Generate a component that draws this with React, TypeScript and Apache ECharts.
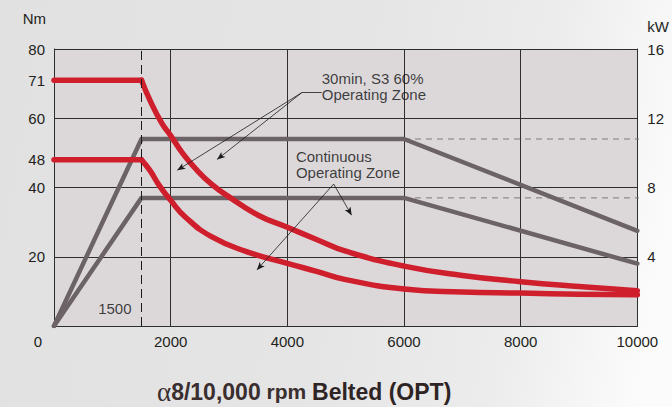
import React, { useEffect, useRef } from "react";
import * as echarts from "echarts";

// ---- data ----
const rpmTicks = [0, 2000, 4000, 6000, 8000, 10000];
const torqueTickLabels = [20, 40, 48, 60, 71, 80];
const powerTickLabels = [4, 8, 12, 16];
const baseSpeed = 1500;

// torque curves (rpm, Nm)
const s3Torque: number[][] = [
  [0, 71], [1500, 71], [1650, 65], [1850, 58.5], [2000, 55], [2200, 50],
  [2450, 45], [2700, 41], [3000, 37.3], [3500, 32], [4000, 28.5], [4500, 25],
  [5000, 21.6], [6000, 17.3], [7000, 14.6], [8000, 12.8], [9000, 11.4], [10000, 10.2],
];
const contTorque: number[][] = [
  [0, 48], [1500, 48], [1650, 44.8], [1800, 40.7], [2000, 36.3], [2250, 31.5],
  [2700, 25.8], [3300, 21.5], [4000, 18.1], [4500, 15.8], [5000, 13.4],
  [6000, 10.7], [7000, 9.8], [8000, 9.5], [9000, 9.2], [10000, 9.0],
];
// power curves (rpm, kW)
const s3Power: number[][] = [[0, 0], [1500, 10.8], [6000, 10.8], [10000, 5.5]];
const contPower: number[][] = [[0, 0], [1500, 7.4], [6000, 7.4], [10000, 3.6]];

// leader lines toward the kW labels (rpm, kW)
const dashedLeaders: number[][][] = [
  [[6000, 10.8], [10550, 10.8]],
  [[6000, 7.4], [10550, 7.4]],
];
const solidLeaders: number[][][] = [
  [[10000, 5.5], [10550, 5.5]],
  [[10000, 3.6], [10550, 3.6]],
];

// annotations (rpm, Nm)
const s3Note = { text: "30min, S3 60%\nOperating Zone", at: [4590, 69.1] };
const contNote = { text: "Continuous\nOperating Zone", at: [4147, 46.7] };
const s3Apex = [4248, 67.4];
const s3Tick = [4590, 67.4];
const s3Tips = [[2113, 45.0], [2796, 48.1]];
const contApex = [4794, 41.0];
const contTips = [[3479, 16.2], [5102, 32.0]];
const baseSpeedLabelAt = [1500, 5];

const FONT = "'Liberation Sans', Arial, Helvetica, sans-serif";
const TXT = "#231f20";
const RED = "#cf1f2d";
const GRAY = "#6c6367";
const GRID = "#2e2e2e";

export default function App() {
  const ref = useRef<HTMLDivElement>(null);

  useEffect(() => {
    document.body.style.margin = "0";
    const chart = echarts.init(ref.current!, null, { renderer: "svg" });

    const arrow = (from: number[], to: number[]) => [
      { coord: from, symbol: "none" },
      { coord: to, symbol: "arrow" },
    ];

    // split a torque curve into its flat (constant torque) part and its falling part
    const splitAtBase = (curve: number[][]) => {
      const i = curve.findIndex((p) => p[0] === baseSpeed);
      return [curve.slice(0, i + 1), curve.slice(i)];
    };

    const redSeries = [s3Torque, contTorque].flatMap((curve) => {
      const [flat, falling] = splitAtBase(curve);
      return [
        { data: flat, smooth: false },
        { data: falling, smooth: 0.5 },
      ].map((s) => ({
        type: "line",
        yAxisIndex: 0,
        data: s.data,
        smooth: s.smooth,
        symbol: "none",
        silent: true,
        z: 3,
        lineStyle: { color: RED, width: 5.5, cap: "round", join: "round" },
      }));
    });

    const option: any = {
      animation: false,
      title: {
        text: "{a|α}{b|8/10,000}{c| rpm }{d|Belted (OPT)}",
        left: 152,
        top: 373,
        textStyle: {
          rich: {
            a: { fontFamily: "'Liberation Serif', 'DejaVu Serif', serif", fontSize: 27, fontWeight: "normal", color: "#3a2e2e" },
            b: { fontFamily: FONT, fontSize: 23, fontWeight: "bold", color: "#3a2e2e" },
            c: { fontFamily: FONT, fontSize: 21, fontWeight: "bold", color: "#3a2e2e" },
            d: { fontFamily: FONT, fontSize: 23, fontWeight: "bold", color: "#2e2424" },
          },
        },
      },
      grid: {
        left: 54,
        right: 32,
        top: 49,
        bottom: 81,
        show: true,
        backgroundColor: "#dcd8da",
        borderWidth: 0,
      },
      xAxis: {
        type: "value",
        min: rpmTicks[0],
        max: rpmTicks[rpmTicks.length - 1],
        interval: rpmTicks[1] - rpmTicks[0],
        axisLine: { show: true, onZero: false, lineStyle: { color: GRID, width: 1 } },
        axisTick: { show: false },
        splitLine: { show: true, lineStyle: { color: GRID, width: 1 } },
        axisLabel: {
          fontFamily: FONT,
          fontSize: 15,
          color: TXT,
          margin: 8,
          formatter: (v: number) => (v === 0 ? "{o|0}" : String(v)),
          rich: { o: { fontFamily: FONT, fontSize: 15, color: TXT, padding: [0, 32, 0, 0] } },
        },
      },
      yAxis: [
        {
          type: "value",
          min: 0,
          max: 80,
          interval: 20,
          position: "left",
          name: "Nm",
          nameLocation: "end",
          nameGap: 23,
          nameTextStyle: { fontFamily: FONT, fontSize: 15, color: TXT, align: "right", padding: [0, 8, 0, 0] },
          axisLine: { show: true, lineStyle: { color: GRID, width: 1 } },
          axisTick: { show: false },
          axisLabel: { show: false },
          splitLine: { show: true, lineStyle: { color: GRID, width: 1 } },
        },
        {
          type: "value",
          min: 0,
          max: 16,
          interval: 4,
          position: "right",
          name: "kW",
          nameLocation: "end",
          nameGap: 15,
          nameTextStyle: { fontFamily: FONT, fontSize: 15, color: TXT, align: "left", padding: [0, 0, 0, 10] },
          axisLine: { show: true, lineStyle: { color: GRID, width: 1 } },
          axisTick: { show: false },
          splitLine: { show: false },
          axisLabel: {
            fontFamily: FONT,
            fontSize: 15,
            color: TXT,
            margin: 10,
            formatter: (v: number) => (powerTickLabels.includes(v) ? String(v) : ""),
          },
        },
        {
          type: "value",
          min: 0,
          max: 80,
          interval: 1,
          position: "left",
          axisLine: { show: false },
          axisTick: { show: false },
          splitLine: { show: false },
          axisLabel: {
            fontFamily: FONT,
            fontSize: 15,
            color: TXT,
            margin: 9,
            formatter: (v: number) => (torqueTickLabels.includes(v) ? String(v) : ""),
          },
        },
      ],
      series: [
        ...dashedLeaders.map((d) => ({
          type: "line",
          yAxisIndex: 1,
          data: d,
          symbol: "none",
          clip: false,
          silent: true,
          z: 1,
          lineStyle: { color: "#7a7a7a", width: 1, type: [6, 5] },
        })),
        ...solidLeaders.map((d) => ({
          type: "line",
          yAxisIndex: 1,
          data: d,
          symbol: "none",
          clip: false,
          silent: true,
          z: 1,
          lineStyle: { color: "#8a8a8a", width: 1 },
        })),
        {
          name: "S3 power",
          type: "line",
          yAxisIndex: 1,
          data: s3Power,
          symbol: "none",
          silent: true,
          z: 2,
          lineStyle: { color: GRAY, width: 4.5, cap: "round", join: "round" },
        },
        {
          name: "Continuous power",
          type: "line",
          yAxisIndex: 1,
          data: contPower,
          symbol: "none",
          silent: true,
          z: 2,
          lineStyle: { color: GRAY, width: 4.5, cap: "round", join: "round" },
        },
        ...redSeries,
        {
          name: "notes",
          type: "scatter",
          yAxisIndex: 0,
          symbolSize: 0,
          silent: true,
          z: 4,
          data: [
            { value: baseSpeedLabelAt, name: String(baseSpeed), label: { position: "left", distance: 10, align: "right" } },
            { value: s3Note.at, name: s3Note.text, label: { position: "right", distance: 0, align: "left" } },
            { value: contNote.at, name: contNote.text, label: { position: "right", distance: 0, align: "left" } },
          ],
          label: {
            show: true,
            formatter: "{b}",
            fontFamily: FONT,
            fontSize: 15,
            lineHeight: 16,
            color: "#111",
          },
          markLine: {
            silent: true,
            symbol: "none",
            symbolSize: [5, 8],
            label: { show: false },
            lineStyle: { color: "#1a1a1a", width: 0.8, type: "solid" },
            data: [
              { xAxis: baseSpeed, lineStyle: { color: "#1a1a1a", width: 1, type: [9, 5] } },
              [{ coord: s3Apex, symbol: "none" }, { coord: s3Tick, symbol: "none" }],
              ...s3Tips.map((t) => arrow(s3Apex, t)),
              ...contTips.map((t) => arrow(contApex, t)),
            ],
          },
        },
      ],
    };

    chart.setOption(option);
    return () => chart.dispose();
  }, []);

  return (
    <div
      ref={ref}
      style={{
        position: "absolute",
        left: 0,
        top: 0,
        width: 672,
        height: 407,
        background: "linear-gradient(100deg, #e1e1e1 0%, #e5e5e5 50%, #ececec 75%, #fbfbfb 95%)",
      }}
    />
  );
}
